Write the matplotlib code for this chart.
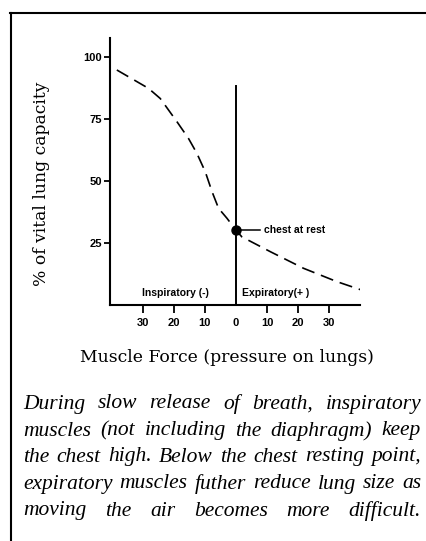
import matplotlib
matplotlib.use("Agg")
import matplotlib.pyplot as plt
from matplotlib.lines import Line2D

# --- data ---
force = [-38.4, -28.2, -24.4, -19.0, -15.3, -12.6, -9.9, -7.7, -5.6, -2.9, 0.0,
         1.9, 11.1, 21.8, 32.6, 40.6]
capacity = [94.8, 87.4, 83.3, 73.9, 67.2, 61.2, 53.8, 45.7, 39.0, 35.0, 30.2,
            27.5, 21.5, 14.8, 9.4, 6.0]
rest_point = (0.0, 30.2)
divider_top = 88.3
x_ticks = [-30, -20, -10, 0, 10, 20, 30]
x_tick_labels = ["30", "20", "10", "0", "10", "20", "30"]
y_ticks = [25, 50, 75, 100]
y_tick_labels = ["25", "50", "75", "100"]
caption_lines = [
    "During slow release of breath, inspiratory",
    "muscles (not including the diaphragm) keep",
    "the chest high. Below the chest resting point,",
    "expiratory muscles futher reduce lung size as",
    "moving the air becomes more difficult.",
]

W, H = 427, 541
plt.rcParams['lines.scale_dashes'] = False
fig = plt.figure(figsize=(W / 100, H / 100), dpi=100)


def px(x, y):
    """pixel (from top-left) -> figure fraction"""
    return x / W, 1 - y / H


ax = fig.add_axes([110 / W, (H - 305) / H, 250 / W, 267 / H])
ax.set_xlim(-40.6, 40.0)
ax.set_ylim(0, 107.7)

for s in ['top', 'right']:
    ax.spines[s].set_visible(False)
for s in ['left', 'bottom']:
    ax.spines[s].set_linewidth(1.5)

sans = dict(family='Liberation Sans', weight='bold')
ax.set_yticks(y_ticks)
ax.set_yticklabels(y_tick_labels, fontsize=8, **sans)
ax.set_xticks(x_ticks)
ax.set_xticklabels(x_tick_labels, fontsize=8, **sans)
ax.tick_params(axis='y', direction='out', length=4, width=1.3, pad=2)
ax.tick_params(axis='x', direction='out', length=6, width=1.3, pad=3)
ax.xaxis.get_major_ticks()[3].tick1line.set_visible(False)

# dashed curve
ax.plot(force, capacity, color='black', lw=1.2, dashes=(9.5, 5), dash_capstyle='butt',
        solid_joinstyle='round')

# vertical divider at zero force
ax.plot([0, 0], [0, divider_top], color='black', lw=1.4)

# chest at rest marker
ax.plot([rest_point[0]], [rest_point[1]], 'o', color='black', ms=6.5)
ax.plot([rest_point[0], 7.7], [rest_point[1], rest_point[1]], color='black', lw=1.1)
ax.text(9.2, rest_point[1], "chest at rest", fontsize=7.5, va='center', ha='left', **sans)

ax.text(-19.5, 4.8, "Inspiratory (-)", fontsize=7.5, ha='center', va='center', **sans)
ax.text(1.8, 4.8, "Expiratory(+ )", fontsize=7.5, ha='left', va='center', **sans)

# axis titles
fig.text(*px(42, 184), "% of vital lung capacity", rotation=90, ha='center', va='center',
         family='DejaVu Serif', fontsize=12.3)
fig.text(*px(227, 357), "Muscle Force (pressure on lungs)", ha='center', va='center',
         family='DejaVu Serif', fontsize=12.4)

# justified italic caption
fig.canvas.draw()
renderer = fig.canvas.get_renderer()
left, right = 23, 421
line_y = [404, 431, 457, 484, 511]
for line, y in zip(caption_lines, line_y):
    words = line.split()
    texts = [fig.text(0, 1 - y / H, w, family='Liberation Serif', style='italic',
                      fontsize=15.5, va='center', ha='left') for w in words]
    widths = [t.get_window_extent(renderer).width for t in texts]
    gap = (right - left - sum(widths)) / (len(words) - 1)
    x = left
    for t, w in zip(texts, widths):
        t.set_x(x / W)
        x += w + gap

# frame around the panel
fig.add_artist(Line2D([10 / W, 1.0], [1 - 13 / H] * 2, color='black', lw=1.5,
                      transform=fig.transFigure))
fig.add_artist(Line2D([11 / W] * 2, [1 - 13 / H, 0.0], color='black', lw=1.5,
                      transform=fig.transFigure))

fig.savefig("out.png", dpi=100)
